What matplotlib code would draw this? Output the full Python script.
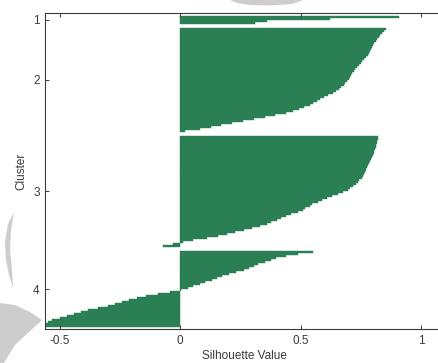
import numpy as np
import matplotlib.pyplot as plt
from matplotlib.patches import Polygon

# silhouette values per cluster, sorted high to low
cluster1 = [0.91, 0.62, 0.36, 0.31]
cluster2 = [0.855, 0.846, 0.838, 0.831, 0.825, 0.818, 0.813, 0.806, 0.801, 0.797,
            0.792, 0.789, 0.784, 0.779, 0.771, 0.765, 0.756, 0.749, 0.741, 0.735,
            0.727, 0.722, 0.715, 0.711, 0.703, 0.699, 0.691, 0.686, 0.679, 0.668,
            0.658, 0.645, 0.633, 0.614, 0.599, 0.582, 0.570, 0.553, 0.541, 0.516,
            0.495, 0.470, 0.439, 0.393, 0.351, 0.305, 0.263, 0.216, 0.171, 0.129,
            0.081, 0.021]
cluster3 = [0.823, 0.821, 0.818, 0.817, 0.814, 0.812, 0.809, 0.806, 0.803, 0.800,
            0.796, 0.792, 0.789, 0.784, 0.780, 0.777, 0.773, 0.771, 0.767, 0.765,
            0.758, 0.753, 0.744, 0.738, 0.729, 0.719, 0.706, 0.695, 0.677, 0.656,
            0.631, 0.611, 0.589, 0.571, 0.549, 0.537, 0.520, 0.508, 0.489, 0.461,
            0.441, 0.419, 0.401, 0.379, 0.361, 0.331, 0.299, 0.266, 0.229, 0.196,
            0.159, 0.111, 0.052, 0.011, -0.03, -0.07]
cluster4 = [0.55, 0.49, 0.44, 0.40, 0.379, 0.351, 0.324, 0.306, 0.284, 0.266,
            0.234, 0.201, 0.176, 0.154, 0.131, 0.104, 0.081, 0.054, 0.031, 0.005,
            -0.04, -0.09, -0.14, -0.18, -0.21, -0.24, -0.27, -0.30, -0.34, -0.38,
            -0.41, -0.44, -0.47, -0.50, -0.53, -0.55, -0.57, -0.59]
clusters = [cluster1, cluster2, cluster3, cluster4]
cluster_names = ['1', '2', '3', '4']

xticks = [-0.5, 0, 0.5, 1]
xticklabels = ['-0.5', '0', '0.5', '1']

green = '#2a7f55'
ink = '#3a3a3a'
gap = 2

plt.rcParams['font.family'] = ['Liberation Sans', 'DejaVu Sans']

fig = plt.figure(figsize=(4.38, 3.63), dpi=100)
W, H = 438, 363

# faint grey shapes in the background margins
shapes = [
    [(230, 0), (303, 0), (292, 4), (270, 5.5), (250, 5), (237, 3)],
    [(14, 212), (8, 224), (5, 242), (6, 260), (9, 275), (13, 288), (12, 270),
     (10, 250), (11, 230)],
    [(0, 303), (15, 305), (30, 312), (42, 320), (30, 331), (15, 345), (4, 363), (0, 363)],
]
for pts in shapes:
    fig.patches.append(Polygon([(x / W, 1 - y / H) for x, y in pts], closed=True,
                               transform=fig.transFigure, facecolor='#cdcdcd',
                               edgecolor='none', zorder=0))

ax = fig.add_axes([44.5 / W, 1 - 329 / H, 400.7 / W, 316 / H])

pos = 1
centers = []
for vals in clusters:
    y = np.arange(pos, pos + len(vals))
    ax.barh(y, vals, height=1.0, color=green, edgecolor=green, linewidth=0.3)
    centers.append((y[0] + y[-1]) / 2)
    pos += len(vals) + gap
last = pos - gap - 1

ax.set_ylim(last + 1.5, -1.0)
ax.set_xlim(-0.5625, 1.1)

ax.set_xticks(xticks)
ax.set_xticklabels(xticklabels)
ax.set_yticks(centers)
ax.set_yticklabels(cluster_names)

ax.tick_params(direction='in', length=3, width=0.7, colors=ink, labelsize=8.5,
               top=True, right=True)
ax.tick_params(axis='x', pad=4.5)
ax.tick_params(axis='y', pad=3.5)
for s in ax.spines.values():
    s.set_color(ink)
    s.set_linewidth(0.8)

ax.set_xlabel('Silhouette Value', fontsize=8.5, color=ink, labelpad=2)
ax.set_ylabel('Cluster', fontsize=8.5, color=ink, labelpad=4)

fig.savefig('out.png', dpi=100)
